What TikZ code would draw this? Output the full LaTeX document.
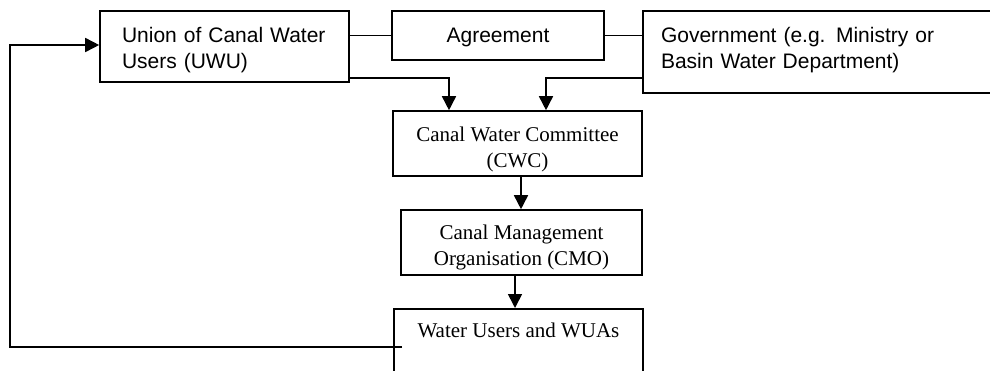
\documentclass[tikz,border=0pt]{standalone}
\usepackage{fontspec}
\setmainfont{Liberation Serif}
\setsansfont{Liberation Sans}
\usetikzlibrary{arrows.meta}

\begin{document}
\begin{tikzpicture}[x=1pt,y=-1pt,line width=1.6pt,
		sans box/.style={rectangle,draw,inner sep=0pt,font=\sffamily\fontsize{21}{26}\selectfont},
		serif box/.style={rectangle,draw,inner sep=0pt,align=center,font=\rmfamily\fontsize{21}{26}\selectfont},
		flow/.style={-{Triangle[length=14pt,width=14pt]}}]
		\clip (0,0) rectangle (990,370);
		\node[sans box,minimum width=249pt,minimum height=71pt,text width=205pt,align=left,text height=23.3pt] (UWU) at (224.5,46.5) {Union of Canal Water\\Users (UWU)};
		\node[sans box,minimum width=212pt,minimum height=49pt,text height=19pt,text depth=4.4pt] (Agr) at (498,35.5) {Agreement};
		\node[sans box,minimum width=357pt,minimum height=82pt,text width=321pt,align=left,text depth=34.4pt] (Gov) at (821.5,52) {Government (e.g. Ministry or\\Basin Water Department)};
		\node[serif box,minimum width=249pt,minimum height=65pt,text height=52.3pt] (CWC) at (517.5,143.5) {Canal Water Committee\\(CWC)};
		\node[serif box,minimum width=241pt,minimum height=65pt,text height=50.3pt] (CMO) at (521.5,242.5) {Canal Management\\Organisation (CMO)};
		\node[serif box,anchor=north,minimum width=249pt,inner ysep=14pt,text height=15pt,text depth=60pt] (WU) at (518.5,308) {Water Users and WUAs};
		\coordinate (loopstart) at (402,347);
		\coordinate (loopcorner) at (10,347);

		% agreement links
		\draw (UWU.east |- Agr.west) -- (Agr.west);
		\draw (Agr.east) -- (Agr.east -| Gov.west);
		% down to the committee
		\draw[flow] ([yshift=5pt]UWU.south east) -| ([xshift=-68.5pt]CWC.north);
		\draw[flow] ([yshift=16pt]Gov.south west) -| ([xshift=28.5pt]CWC.north);
		\draw[flow] ([xshift=-0.5pt]CWC.south -| CMO.north) -- ([xshift=-0.5pt]CMO.north);
		\draw[flow] ([xshift=-6.5pt]CMO.south) -- ([xshift=-6.5pt]CMO.south |- WU.north);
		% back to the union
		\draw[flow] (loopstart) -- (loopcorner) |- ([yshift=1.5pt]UWU.west);
\end{tikzpicture}
\end{document}
